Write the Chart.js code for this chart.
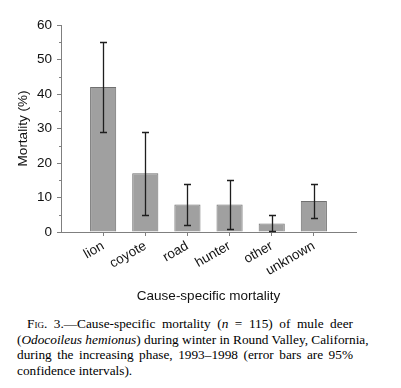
<!DOCTYPE html>
<html>
<head>
<meta charset="utf-8">
<script src="https://cdn.jsdelivr.net/npm/chart.js@4.4.1/dist/chart.umd.min.js"></script>
<style>
  html, body { margin:0; padding:0; background:#fff; }
  #wrap { position:relative; width:401px; height:310px; }
  .cap { position:absolute; left:17px; top:316px; width:336px; font-family:"Liberation Serif", serif; font-size:13.3px; line-height:15.5px; color:#000; }
  .cap .l { text-align:justify; text-align-last:justify; white-space:nowrap; }
  .cap .l.last { text-align-last:left; }
  .cap .sc { font-variant:small-caps; }
</style>
</head>
<body>
<div id="wrap"><canvas id="chart"></canvas></div>
<div class="cap">
  <div class="l" style="padding-left:10px">F<span class="sc">ig</span>. 3.—Cause-specific mortality (<i>n</i> = 115) of mule deer</div>
  <div class="l">(<i>Odocoileus hemionus</i>) during winter in Round Valley, California,</div>
  <div class="l">during the increasing phase, 1993–1998 (error bars are 95%</div>
  <div class="l last">confidence intervals).</div>
</div>
<script>
// empty slots at both ends give the extra space left of lion / right of unknown
const CATEGORIES = ['', 'lion', 'coyote', 'road', 'hunter', 'other', 'unknown', ''];
const MORTALITY = [null, 42, 17, 8, 8, 2.5, 9, null];
const CI_LOW  = [null, 29, 5, 2, 1, 0.3, 4, null];
const CI_HIGH = [null, 55, 29, 14, 15, 4.9, 14, null];
const Y_TICKS = [0, 10, 20, 30, 40, 50, 60];
const Y_MINOR = [5, 15, 25, 35, 45, 55];

const AXIS = '#7f7f7f';
const TEXT = '#111';
const FONT = {family:'"Liberation Sans", Arial, sans-serif', size:13.5};

const errorBars = {
  id:'errorBars',
  afterDatasetsDraw(chart){
    const {ctx, scales:{y}} = chart;
    const meta = chart.getDatasetMeta(0);
    ctx.save();
    ctx.strokeStyle = '#1e1e1e';
    ctx.lineWidth = 1.3;
    meta.data.forEach((bar, i) => {
      if(CI_LOW[i] == null) return;
      const x = Math.round(bar.x) + 0.5;
      const lo = Math.round(y.getPixelForValue(CI_LOW[i])) + 0.5;
      const hi = Math.round(y.getPixelForValue(CI_HIGH[i])) + 0.5;
      ctx.beginPath();
      ctx.moveTo(x, lo); ctx.lineTo(x, hi);
      ctx.moveTo(x - 3.5, hi); ctx.lineTo(x + 3.5, hi);
      ctx.moveTo(x - 3.5, lo); ctx.lineTo(x + 3.5, lo);
      ctx.stroke();
    });
    ctx.restore();
  }
};

// short minor ticks on the y axis
const minorTicks = {
  id:'minorTicks',
  afterDraw(chart){
    const {ctx, scales:{y}} = chart;
    ctx.save();
    ctx.strokeStyle = AXIS;
    ctx.lineWidth = 1;
    ctx.beginPath();
    Y_MINOR.forEach(v => {
      const py = Math.round(y.getPixelForValue(v)) + 0.5;
      ctx.moveTo(y.right - 2, py); ctx.lineTo(y.right, py);
    });
    ctx.stroke();
    ctx.restore();
  }
};

new Chart(document.getElementById('chart'), {
  type:'bar',
  data:{
    labels: CATEGORIES,
    datasets:[{
      data: MORTALITY,
      backgroundColor:'#a0a0a0',
      borderColor:'#707070',
      borderWidth:1,
      barPercentage:0.62,
      categoryPercentage:1
    }]
  },
  options:{
    responsive:true,
    maintainAspectRatio:false,
    animation:false,
    layout:{padding:{top:25, right:45, left:0, bottom:0}},
    plugins:{legend:{display:false}, tooltip:{enabled:false}},
    scales:{
      x:{
        offset:false,
        grid:{offset:false, drawOnChartArea:false, tickLength:4,
          tickColor: c => (CATEGORIES[c.index] ? AXIS : 'rgba(0,0,0,0)')},
        border:{color:AXIS},
        ticks:{font:FONT, color:TEXT, minRotation:30, maxRotation:30, autoSkip:false, padding:2},
        title:{display:true, text:'Cause-specific mortality', font:FONT, color:TEXT, padding:{top:0, bottom:6}},
        afterFit: s => { s.height = 78; }
      },
      y:{
        min:0, max:60,
        afterBuildTicks: s => { s.ticks = Y_TICKS.map(v => ({value:v})); },
        grid:{drawOnChartArea:false, tickLength:4, tickColor:AXIS},
        border:{color:AXIS},
        ticks:{font:FONT, color:TEXT, padding:5},
        title:{display:true, text:'Mortality (%)', font:FONT, color:TEXT, padding:{top:15, bottom:0}},
        afterFit: s => { s.width = 61; }
      }
    }
  },
  plugins:[errorBars, minorTicks]
});
</script>
</body>
</html>
